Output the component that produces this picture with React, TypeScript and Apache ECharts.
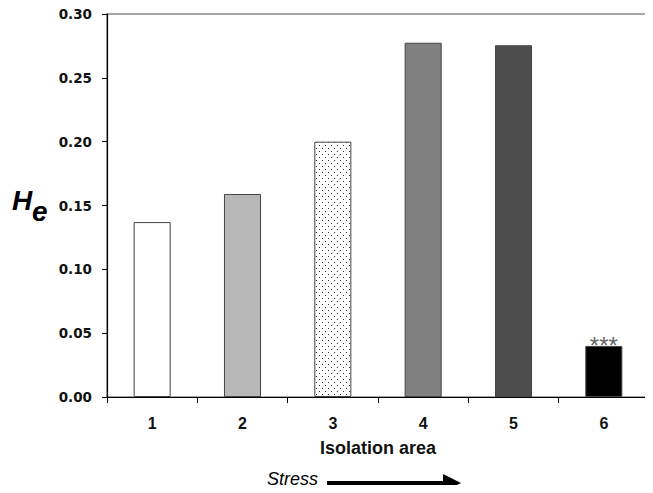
import React, { useEffect, useRef } from "react";
import * as echarts from "echarts";

const categories = ["1", "2", "3", "4", "5", "6"];
const heValues = [0.137, 0.159, 0.2, 0.2775, 0.2755, 0.04];
const barColors = ["#ffffff", "#b8b8b8", "dots", "#808080", "#4d4d4d", "#000000"];
const yTicks = [0, 0.05, 0.1, 0.15, 0.2, 0.25, 0.3];
const significance = ["", "", "", "", "", "***"];

function makeDots(): HTMLCanvasElement {
  const c = document.createElement("canvas");
  c.width = 6;
  c.height = 6;
  const ctx = c.getContext("2d")!;
  ctx.fillStyle = "#ffffff";
  ctx.fillRect(0, 0, 6, 6);
  ctx.fillStyle = "#333333";
  ctx.fillRect(1, 1, 1, 1);
  ctx.fillRect(4, 4, 1, 1);
  return c;
}

export default function App() {
  const ref = useRef<HTMLDivElement>(null);
  useEffect(() => {
    if (!ref.current) return;
    const chart = echarts.init(ref.current, undefined, { renderer: "svg" });
    const font = "Liberation Sans, Arial, sans-serif";
    const dots = makeDots();
    chart.setOption({
      animation: false,
      grid: {
        left: 107,
        right: 4,
        top: 14,
        bottom: 96,
        show: true,
        borderColor: "#8a8a8a",
        borderWidth: 1.5,
        backgroundColor: "transparent",
      },
      xAxis: {
        type: "category",
        data: categories,
        boundaryGap: true,
        axisLine: { lineStyle: { color: "#000", width: 1.2 } },
        axisTick: { show: true, length: 6, inside: false, lineStyle: { color: "#000" } },
        axisLabel: {
          color: "#111",
          fontSize: 16,
          fontWeight: "bold",
          fontFamily: font,
          margin: 18,
        },
        name: "Isolation area",
        nameLocation: "middle",
        nameGap: 42,
        nameTextStyle: { color: "#111", fontSize: 18, fontWeight: "bold", fontFamily: font },
      },
      yAxis: {
        type: "value",
        min: yTicks[0],
        max: yTicks[yTicks.length - 1],
        interval: 0.05,
        axisLine: { show: true, lineStyle: { color: "#000", width: 1.2 } },
        axisTick: { show: true, length: 5, lineStyle: { color: "#000" } },
        splitLine: { show: false },
        axisLabel: {
          color: "#111",
          fontSize: 13.5,
          fontWeight: "bold",
          fontFamily: "DejaVu Sans, sans-serif",
          margin: 15,
          formatter: (v: number) => v.toFixed(2),
        },
      },
      series: [
        {
          type: "bar",
          barWidth: "41%",
          data: heValues.map((v, i) => ({
            value: v,
            itemStyle: {
              color:
                barColors[i] === "dots"
                  ? { image: dots, repeat: "repeat" }
                  : barColors[i],
              borderColor: "#444",
              borderWidth: 1,
            },
            label: {
              show: significance[i] !== "",
              position: "top",
              distance: -12,
              formatter: significance[i],
              color: "#666",
              fontSize: 24,
              fontFamily: font,
            },
          })),
        },
      ],
      graphic: [
        {
          type: "text",
          x: 12,
          y: 200,
          style: {
            text: "H",
            font: "italic bold 28px Liberation Sans, Arial, sans-serif",
            fill: "#000",
            verticalAlign: "middle",
          },
        },
        {
          type: "text",
          x: 32,
          y: 211,
          style: {
            text: "e",
            font: "italic bold 28px Liberation Sans, Arial, sans-serif",
            fill: "#000",
            verticalAlign: "middle",
          },
        },
        {
          type: "text",
          x: 267,
          y: 479,
          style: {
            text: "Stress",
            font: "italic 18px Liberation Sans, Arial, sans-serif",
            fill: "#000",
            verticalAlign: "middle",
          },
        },
        {
          type: "line",
          shape: { x1: 327, y1: 483, x2: 446, y2: 483 },
          style: { stroke: "#000", lineWidth: 4 },
        },
        {
          type: "polygon",
          shape: { points: [[443, 474], [461, 483], [443, 492]] },
          style: { fill: "#000" },
        },
      ],
    });
    return () => chart.dispose();
  }, []);
  return <div ref={ref} style={{ width: 653, height: 493, margin: -8 }} />;
}
